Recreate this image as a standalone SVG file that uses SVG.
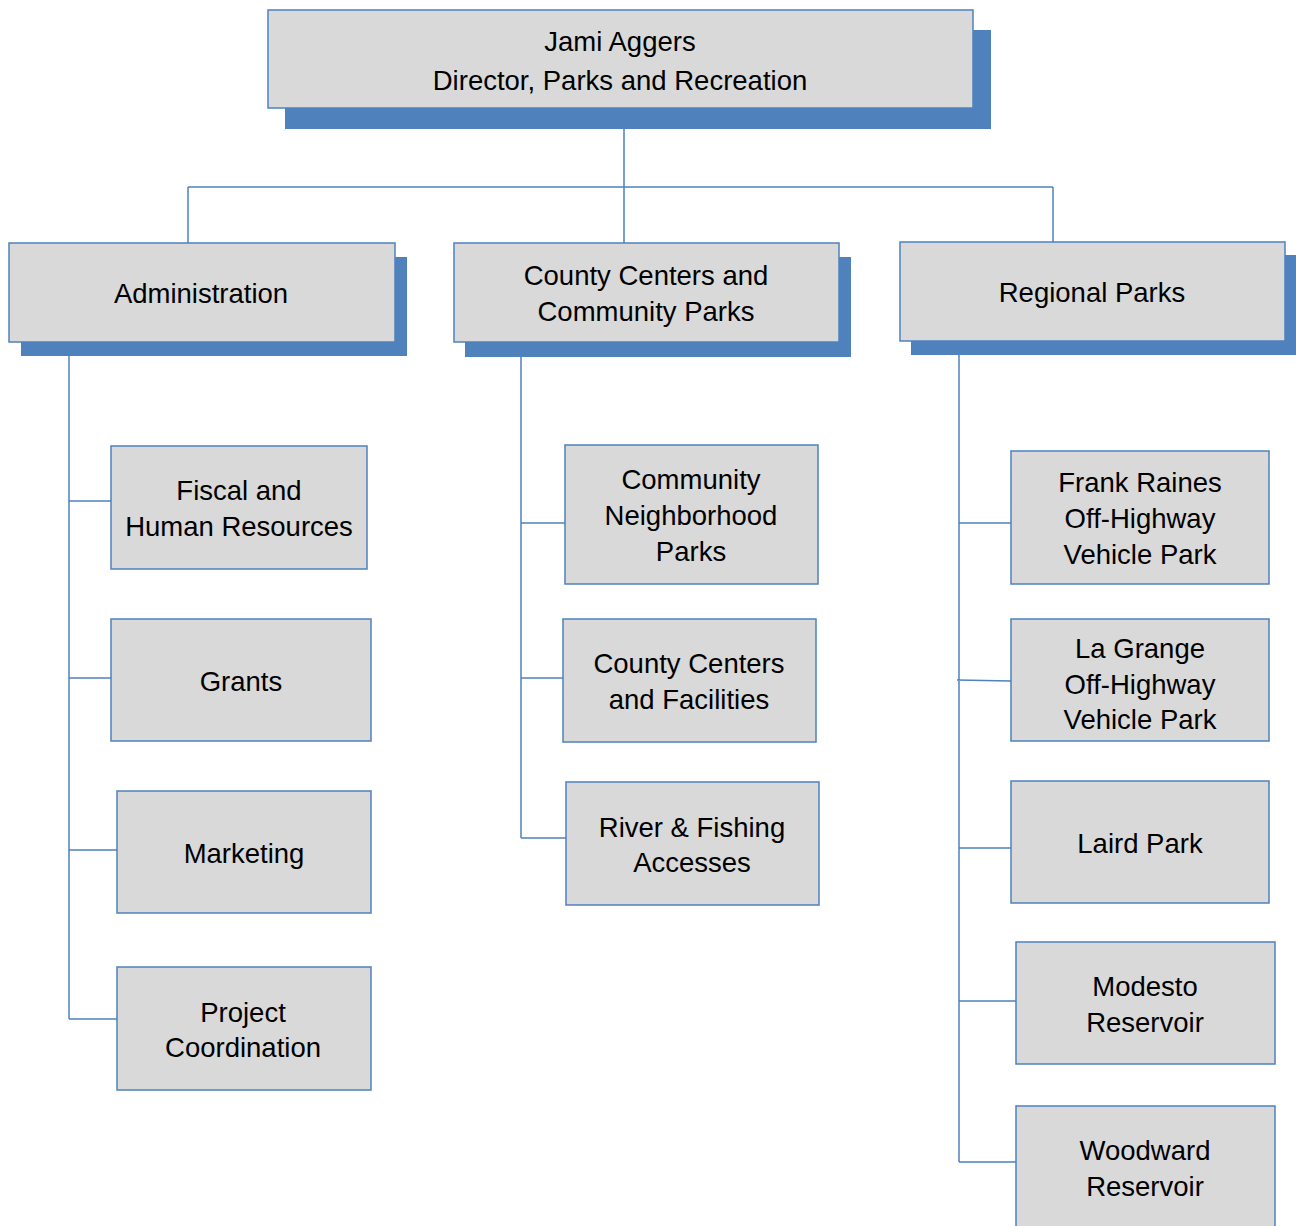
<svg xmlns="http://www.w3.org/2000/svg" width="1296" height="1226" viewBox="0 0 1296 1226">
<style>
.box{fill:#d9d9d9;stroke:#4f81bd;stroke-width:1.5}
.sh{fill:#4f81bd}
.ln{stroke:#4f81bd;stroke-width:1.5;fill:none}
text{font-family:"Liberation Sans",Arial,sans-serif;font-size:27.5px;fill:#000;text-anchor:middle}
</style>
<rect width="1296" height="1226" fill="#fff"/>
<g id="connectors">
<path class="ln" d="M624 129V243M188 187H1053M188 187V243M1053 187V242"/>
<path class="ln" d="M69 356V1019M69 501H111M69 678H111M69 850H117M69 1019H117"/>
<path class="ln" d="M521 357V838M521 523H565M521 678H563M521 838H566"/>
<path class="ln" d="M959 355V1162M959 523H1011M957 680L1011 681M959 848H1011M959 1001H1016M959 1162H1016"/>
</g>
<g id="director">
<rect class="sh" x="285" y="30" width="706" height="99"/>
<rect class="box" x="268" y="10" width="705" height="98"/>
<text x="620" y="51">Jami Aggers</text>
<text x="620" y="90">Director, Parks and Recreation</text>
</g>
<g id="administration">
<rect class="sh" x="21" y="257" width="386" height="99"/>
<rect class="box" x="9" y="243" width="386" height="99"/>
<text x="201" y="303">Administration</text>
</g>
<g id="county-centers-community-parks">
<rect class="sh" x="465" y="257" width="386" height="100"/>
<rect class="box" x="454" y="243" width="385" height="99"/>
<text x="646" y="285">County Centers and</text>
<text x="646" y="321">Community Parks</text>
</g>
<g id="regional-parks">
<rect class="sh" x="911" y="255" width="385" height="100"/>
<rect class="box" x="900" y="242" width="385" height="99"/>
<text x="1092" y="302">Regional Parks</text>
</g>
<g id="fiscal">
<rect class="box" x="111" y="446" width="256" height="123"/>
<text x="239" y="500">Fiscal and</text>
<text x="239" y="536">Human Resources</text>
</g>
<g id="grants">
<rect class="box" x="111" y="619" width="260" height="122"/>
<text x="241" y="691">Grants</text>
</g>
<g id="marketing">
<rect class="box" x="117" y="791" width="254" height="122"/>
<text x="244" y="863">Marketing</text>
</g>
<g id="project-coordination">
<rect class="box" x="117" y="967" width="254" height="123"/>
<text x="243" y="1022">Project</text>
<text x="243" y="1057">Coordination</text>
</g>
<g id="community-neighborhood-parks">
<rect class="box" x="565" y="445" width="253" height="139"/>
<text x="691" y="489">Community</text>
<text x="691" y="525">Neighborhood</text>
<text x="691" y="561">Parks</text>
</g>
<g id="county-centers-facilities">
<rect class="box" x="563" y="619" width="253" height="123"/>
<text x="689" y="673">County Centers</text>
<text x="689" y="709">and Facilities</text>
</g>
<g id="river-fishing">
<rect class="box" x="566" y="782" width="253" height="123"/>
<text x="692" y="837">River &amp; Fishing</text>
<text x="692" y="872">Accesses</text>
</g>
<g id="frank-raines">
<rect class="box" x="1011" y="451" width="258" height="133"/>
<text x="1140" y="492">Frank Raines</text>
<text x="1140" y="528">Off-Highway</text>
<text x="1140" y="564">Vehicle Park</text>
</g>
<g id="la-grange">
<rect class="box" x="1011" y="619" width="258" height="122"/>
<text x="1140" y="658">La Grange</text>
<text x="1140" y="694">Off-Highway</text>
<text x="1140" y="729">Vehicle Park</text>
</g>
<g id="laird-park">
<rect class="box" x="1011" y="781" width="258" height="122"/>
<text x="1140" y="853">Laird Park</text>
</g>
<g id="modesto-reservoir">
<rect class="box" x="1016" y="942" width="259" height="122"/>
<text x="1145" y="996">Modesto</text>
<text x="1145" y="1032">Reservoir</text>
</g>
<g id="woodward-reservoir">
<rect class="box" x="1016" y="1106" width="259" height="140"/>
<text x="1145" y="1160">Woodward</text>
<text x="1145" y="1196">Reservoir</text>
</g>
</svg>
